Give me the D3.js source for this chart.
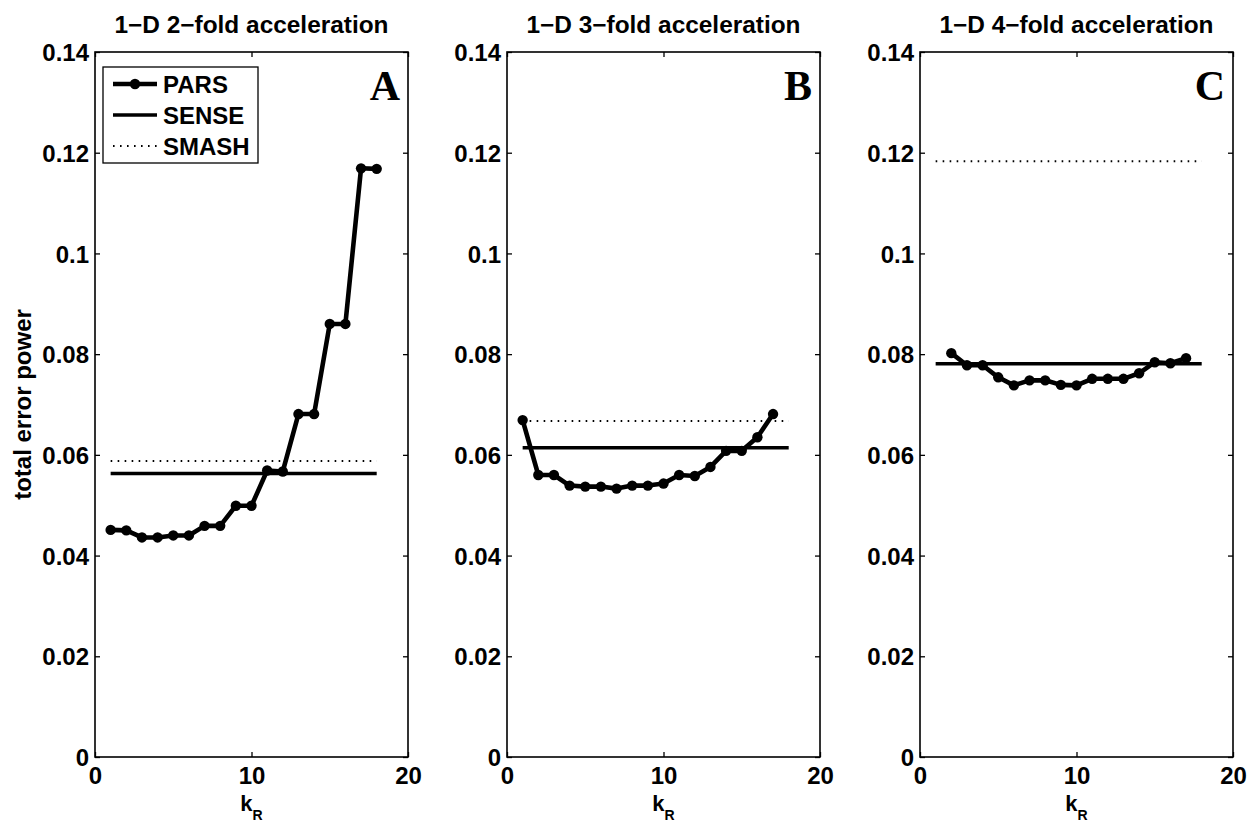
<!DOCTYPE html>
<html>
<head>
<meta charset="utf-8">
<script src="https://cdn.jsdelivr.net/npm/d3@7"></script>
<style>
  html, body { margin: 0; padding: 0; background: #fff; }
  svg { display: block; }
  text { font-family: "Liberation Sans", Arial, Helvetica, sans-serif; font-weight: bold; fill: #000; }
</style>
</head>
<body>
<svg id="chart" width="1247" height="822"></svg>
<script>
// Panel titles and corner letters
const titles = ["1\u2212D 2\u2212fold acceleration", "1\u2212D 3\u2212fold acceleration", "1\u2212D 4\u2212fold acceleration"];
const letters = ["A", "B", "C"];

// PARS error vs. kernel size k_R, one array per acceleration factor
const kA = [1, 2, 3, 4, 5, 6, 7, 8, 9, 10, 11, 12, 13, 14, 15, 16, 17, 18];
const parsA = [0.0451, 0.0450, 0.0436, 0.0436, 0.0440, 0.0440, 0.0459, 0.0459, 0.0499, 0.0499,
               0.0569, 0.0567, 0.0681, 0.0681, 0.0860, 0.0860, 0.1169, 0.1168];
const kB = [1, 2, 3, 4, 5, 6, 7, 8, 9, 10, 11, 12, 13, 14, 15, 16, 17];
const parsB = [0.0669, 0.0560, 0.0560, 0.0539, 0.0537, 0.0537, 0.0533, 0.0539, 0.0539, 0.0543,
               0.0560, 0.0558, 0.0576, 0.0608, 0.0608, 0.0635, 0.0681];
const kC = [2, 3, 4, 5, 6, 7, 8, 9, 10, 11, 12, 13, 14, 15, 16, 17];
const parsC = [0.0802, 0.0778, 0.0778, 0.0754, 0.0738, 0.0748, 0.0748, 0.0739, 0.0738, 0.0751,
               0.0751, 0.0751, 0.0762, 0.0784, 0.0782, 0.0792];

// SENSE and SMASH do not depend on k_R: constant levels per panel
const senseLevel = [0.0563, 0.0614, 0.0781];
const smashLevel = [0.0588, 0.0667, 0.1183];
const refSpan = [1, 18];

// Axis ticks
const xTicks = [0, 10, 20];
const xTickLabels = ["0", "10", "20"];
const yTicks = [0, 0.02, 0.04, 0.06, 0.08, 0.1, 0.12, 0.14];
const yTickLabels = ["0", "0.02", "0.04", "0.06", "0.08", "0.1", "0.12", "0.14"];

const legendLabels = ["PARS", "SENSE", "SMASH"];

const kSets = [kA, kB, kC];
const parsSets = [parsA, parsB, parsC];

const svg = d3.select("#chart");
const panelLeft = [95, 507, 920];
const panelWidth = 313;
const plotTop = 52, plotBottom = 757;
const fontSize = 24;

const y = d3.scaleLinear().domain([0, 0.14]).range([plotBottom, plotTop]);

function hideDomain(g) { g.select(".domain").remove(); }

panelLeft.forEach((left, p) => {
  const x = d3.scaleLinear().domain([0, 20]).range([left, left + panelWidth]);
  const g = svg.append("g");

  // axes with inward ticks on all four sides
  g.append("g").attr("transform", `translate(${left},0)`)
    .call(d3.axisLeft(y).tickValues(yTicks).tickSize(-5).tickPadding(6)
      .tickFormat((d, i) => yTickLabels[i]))
    .call(hideDomain)
    .call(a => a.selectAll("text").attr("font-size", fontSize).attr("fill", "#000")
      .attr("dy", "0.36em"));
  g.append("g").attr("transform", `translate(${left + panelWidth},0)`)
    .call(d3.axisRight(y).tickValues(yTicks).tickSize(-5).tickFormat(""))
    .call(hideDomain);
  g.append("g").attr("transform", `translate(0,${plotBottom})`)
    .call(d3.axisBottom(x).tickValues(xTicks).tickSize(-5).tickPadding(10)
      .tickFormat((d, i) => xTickLabels[i]))
    .call(hideDomain)
    .call(a => a.selectAll("text").attr("font-size", fontSize).attr("fill", "#000")
      .attr("dy", "0.71em"));
  g.append("g").attr("transform", `translate(0,${plotTop})`)
    .call(d3.axisTop(x).tickValues(xTicks).tickSize(-5).tickFormat(""))
    .call(hideDomain);
  g.selectAll("g").attr("font-family", null);
  g.selectAll(".tick line").attr("stroke", "#000").attr("stroke-width", 1.3);

  // plot frame
  g.append("rect")
    .attr("x", left).attr("y", plotTop)
    .attr("width", panelWidth).attr("height", plotBottom - plotTop)
    .attr("fill", "none").attr("stroke", "#000").attr("stroke-width", 1.6);

  // SMASH (dotted) and SENSE (solid) reference levels
  const line = d3.line().x(d => x(d[0])).y(d => y(d[1]));
  g.append("path")
    .attr("d", line(refSpan.map(k => [k, smashLevel[p]])))
    .attr("fill", "none").attr("stroke", "#000").attr("stroke-width", 2)
    .attr("stroke-dasharray", "1.6 5.4");
  g.append("path")
    .attr("d", line(refSpan.map(k => [k, senseLevel[p]])))
    .attr("fill", "none").attr("stroke", "#000").attr("stroke-width", 3.4);

  // PARS curve with markers
  const pts = kSets[p].map((k, i) => [k, parsSets[p][i]]);
  g.append("path")
    .attr("d", line(pts))
    .attr("fill", "none").attr("stroke", "#000").attr("stroke-width", 4.6)
    .attr("stroke-linejoin", "round");
  g.selectAll("circle.pt").data(pts).join("circle")
    .attr("class", "pt")
    .attr("cx", d => x(d[0])).attr("cy", d => y(d[1]))
    .attr("r", 5.2).attr("fill", "#000");

  // title
  g.append("text")
    .attr("x", left + panelWidth / 2).attr("y", 33)
    .attr("text-anchor", "middle").attr("font-size", fontSize)
    .attr("textLength", 274).attr("lengthAdjust", "spacingAndGlyphs")
    .text(titles[p]);

  // corner letter
  g.append("text")
    .attr("x", left + panelWidth - 8).attr("y", 100)
    .attr("text-anchor", "end")
    .style("font-family", "'Liberation Serif', 'Times New Roman', serif")
    .attr("font-size", 42)
    .text(letters[p]);

  // x-axis label k_R
  const cx = left + panelWidth / 2;
  g.append("text").attr("x", cx + 1).attr("y", 811)
    .attr("text-anchor", "end").attr("font-size", 22).text("k");
  g.append("text").attr("x", cx + 1).attr("y", 820)
    .attr("text-anchor", "start").attr("font-size", 14).text("R");
});

// y-axis label on the first panel
svg.append("text")
  .attr("transform", `translate(31,${(plotTop + plotBottom) / 2}) rotate(-90)`)
  .attr("text-anchor", "middle").attr("font-size", fontSize)
  .text("total error power");

// legend in panel A
const lg = svg.append("g");
lg.append("rect").attr("x", 103).attr("y", 67).attr("width", 155).attr("height", 96)
  .attr("fill", "#fff").attr("stroke", "#000").attr("stroke-width", 1.3);
const rowY = [84, 115, 146];
const sx0 = 113, sx1 = 157;
lg.append("line").attr("x1", sx0).attr("x2", sx1).attr("y1", rowY[0]).attr("y2", rowY[0])
  .attr("stroke", "#000").attr("stroke-width", 4.6);
lg.append("circle").attr("cx", (sx0 + sx1) / 2).attr("cy", rowY[0]).attr("r", 5.2).attr("fill", "#000");
lg.append("line").attr("x1", sx0).attr("x2", sx1).attr("y1", rowY[1]).attr("y2", rowY[1])
  .attr("stroke", "#000").attr("stroke-width", 3.4);
lg.append("line").attr("x1", sx0).attr("x2", sx1).attr("y1", rowY[2]).attr("y2", rowY[2])
  .attr("stroke", "#000").attr("stroke-width", 2).attr("stroke-dasharray", "1.6 5.4");
lg.selectAll("text.lab").data(legendLabels).join("text")
  .attr("class", "lab")
  .attr("x", 163).attr("y", (d, i) => rowY[i] + 8.5)
  .attr("font-size", fontSize)
  .text(d => d);
</script>
</body>
</html>
